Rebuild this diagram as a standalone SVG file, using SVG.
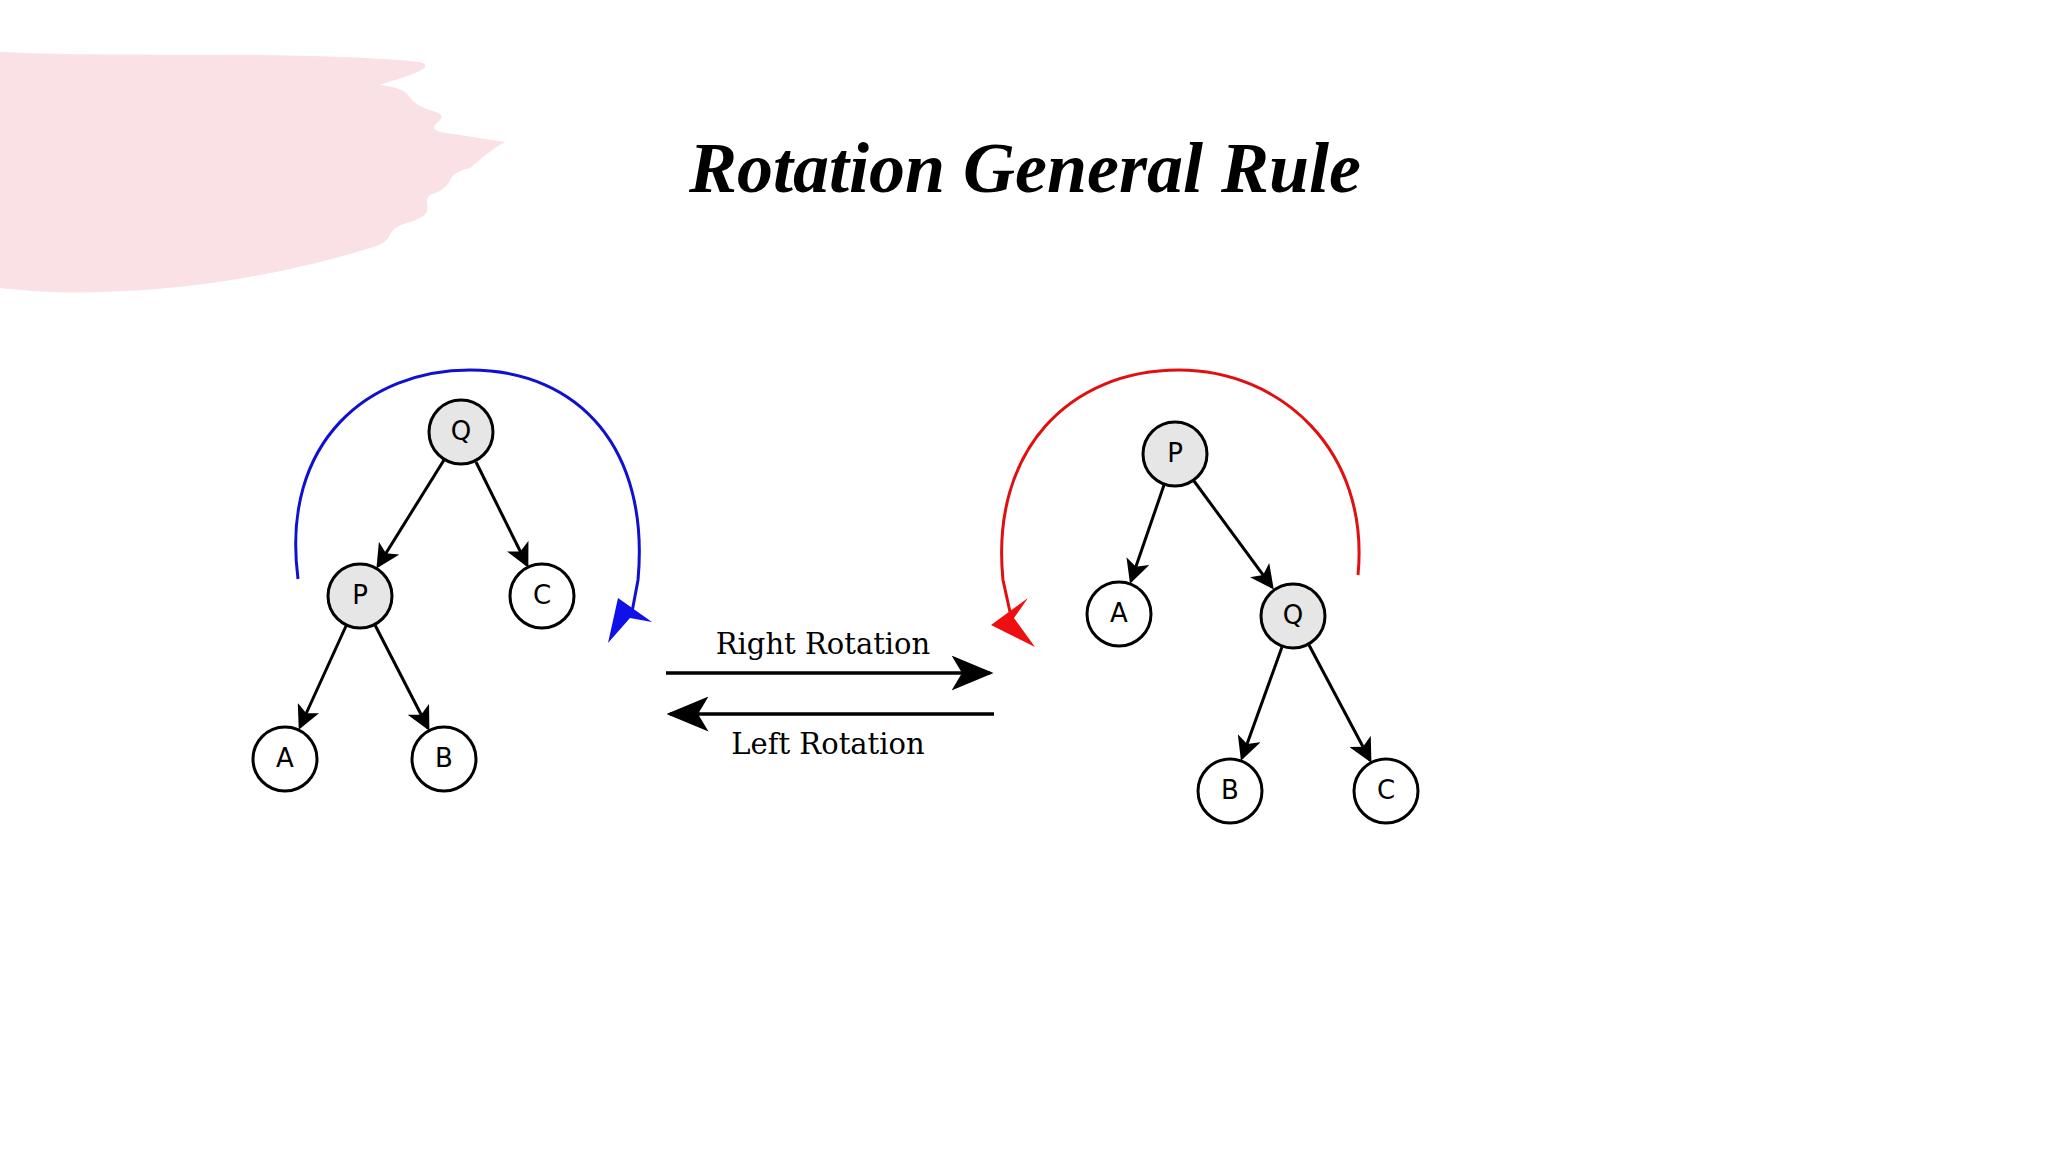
<svg xmlns="http://www.w3.org/2000/svg" width="2048" height="1152" viewBox="0 0 2048 1152">
<defs>
<style>
.n{stroke:#000;stroke-width:3}
.g{fill:#e6e6e6}.w{fill:#fff}
.t{font-family:"DejaVu Sans",sans-serif;font-size:26px;text-anchor:middle;dominant-baseline:central}
.e{stroke:#000;stroke-width:3;fill:none;marker-end:url(#ah)}
.lbl{font-family:"DejaVu Serif",serif;font-size:29px;text-anchor:middle}
</style>
<marker id="ah" markerWidth="8" markerHeight="8" refX="7" refY="4" orient="auto" markerUnits="strokeWidth"><path d="M0,0 L8,4 L0,8 L2,4 z" fill="#000"/></marker>
<marker id="big" markerWidth="12" markerHeight="10" refX="11" refY="5" orient="auto" markerUnits="strokeWidth"><path d="M0,0 L12,5 L0,10 L3,5 z" fill="#000"/></marker>
</defs>
<rect width="2048" height="1152" fill="#fff"/>
<path d="M0,52 C120,58 300,50 420,62 C440,68 400,78 380,85 C420,90 400,100 430,110 C460,118 420,125 440,132 L505,142 C490,150 480,160 470,168 C440,175 460,185 430,195 C420,205 440,212 410,222 C380,230 400,240 370,248 C300,270 200,290 100,292 C60,294 20,290 0,288 Z" fill="#f9e1e6"/>
<text x="1025" y="192" font-family="Liberation Serif,serif" font-weight="bold" font-style="italic" font-size="72" text-anchor="middle">Rotation General Rule</text>
<g id="connectors">
<path d="M298,579 C280,440 370,370 470,370 C580,370 650,450 638,580 L632,612" stroke="#1010d0" stroke-width="3" fill="none"/>
<polygon points="608,643 618,598 652,622 630,618" fill="#1010e8"/>
<path d="M1358,575 C1370,450 1280,370 1179,370 C1070,370 990,450 1003,580 L1010,612" stroke="#e01010" stroke-width="3" fill="none"/>
<polygon points="1035,647 991,625 1028,598 1014,618" fill="#ee1010"/>
<line class="e" x1="444" y1="460" x2="378" y2="566"/>
<line class="e" x1="476" y1="462" x2="527" y2="565"/>
<line class="e" x1="346" y1="626" x2="300" y2="727"/>
<line class="e" x1="375" y1="625" x2="428" y2="728"/>
<line class="e" x1="1164" y1="485" x2="1131" y2="581"/>
<line class="e" x1="1194" y1="481" x2="1272" y2="587"/>
<line class="e" x1="1282" y1="647" x2="1242" y2="758"/>
<line class="e" x1="1309" y1="645" x2="1370" y2="760"/>
<line x1="666" y1="673" x2="990" y2="673" stroke="#000" stroke-width="3.5" marker-end="url(#big)"/>
<line x1="994" y1="714" x2="670" y2="714" stroke="#000" stroke-width="3.5" marker-end="url(#big)"/>
</g>
<text class="lbl" x="823" y="654">Right Rotation</text>
<text class="lbl" x="828" y="754">Left Rotation</text>
<g id="L-Q"><circle class="n g" cx="461" cy="432" r="32"/><text class="t" x="461" y="431">Q</text></g>
<g id="L-P"><circle class="n g" cx="360" cy="596" r="32"/><text class="t" x="360" y="595">P</text></g>
<g id="L-C"><circle class="n w" cx="542" cy="596" r="32"/><text class="t" x="542" y="595">C</text></g>
<g id="L-A"><circle class="n w" cx="285" cy="759" r="32"/><text class="t" x="285" y="758">A</text></g>
<g id="L-B"><circle class="n w" cx="444" cy="759" r="32"/><text class="t" x="444" y="758">B</text></g>
<g id="R-P"><circle class="n g" cx="1175" cy="454" r="32"/><text class="t" x="1175" y="453">P</text></g>
<g id="R-A"><circle class="n w" cx="1119" cy="614" r="32"/><text class="t" x="1119" y="613">A</text></g>
<g id="R-Q"><circle class="n g" cx="1293" cy="616" r="32"/><text class="t" x="1293" y="615">Q</text></g>
<g id="R-B"><circle class="n w" cx="1230" cy="791" r="32"/><text class="t" x="1230" y="790">B</text></g>
<g id="R-C"><circle class="n w" cx="1386" cy="791" r="32"/><text class="t" x="1386" y="790">C</text></g>
</svg>
